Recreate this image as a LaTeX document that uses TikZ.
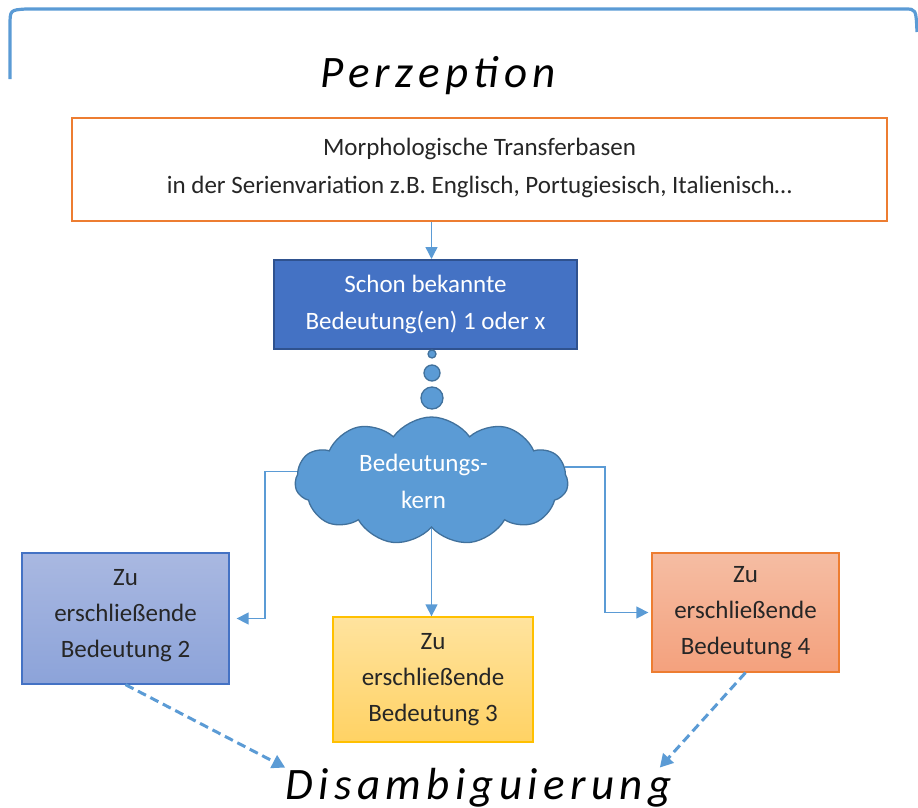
\documentclass[tikz,border=0pt]{standalone}
\usepackage{fontspec}
\setmainfont{Carlito}
\newfontfamily\titelfont[LetterSpace=12]{Carlito}
\usetikzlibrary{shapes.symbols,arrows.meta,calc}

\definecolor{hellblau}{HTML}{5B9BD5}
\definecolor{wolkenrand}{HTML}{41719C}
\definecolor{dunkelblau}{HTML}{4472C4}
\definecolor{blaurand}{HTML}{2F528F}
\definecolor{orangerand}{HTML}{ED7D31}
\definecolor{gelbrand}{HTML}{FFC000}
\definecolor{textgrau}{HTML}{262626}
\definecolor{blauoben}{HTML}{A9B8E1}
\definecolor{blauunten}{HTML}{8CA3D9}
\definecolor{gelboben}{HTML}{FFE39E}
\definecolor{gelbunten}{HTML}{FFD264}
\definecolor{orangeoben}{HTML}{F5BDA3}
\definecolor{orangeunten}{HTML}{F4A17D}

\tikzset{
	kasten/.style={rectangle, draw, align=center, inner sep=0pt, text=textgrau, font=\fontsize{25}{36}\selectfont},
	titel/.style={inner sep=0pt, anchor=base, font=\titelfont\itshape\fontsize{45}{50}\selectfont},
	verbinder/.style={draw=hellblau, line width=1.4pt, -{Triangle[length=12pt,width=12pt]}},
	strichpfeil/.style={draw=hellblau, line width=3pt, dash pattern=on 9pt off 5pt, -{Triangle[length=13pt,width=14pt]}},
	blase/.style={draw=wolkenrand, fill=hellblau, line width=1.3pt}
}

\begin{document}
\begin{tikzpicture}[x=1pt, y=-1pt]
		\useasboundingbox (0,0) rectangle (918,808);
		% Klammer oben
		\draw[draw=hellblau, line width=3.2pt] (10,79) -- (10,26) .. controls (10,10) .. (26,9) -- (905,9) .. controls (916,9) .. (917,32);
		\node[titel] (perz) at (438,87) {Perzeption};
		\node[kasten, draw=orangerand, line width=2.4pt, fill=white, minimum width=815pt, minimum height=103pt, text depth=8pt, font=\fontsize{25}{38}\selectfont] (transfer) at (479.5,169.5) {Morphologische Transferbasen\\in der Serienvariation z.B. Englisch, Portugiesisch, Italienisch…};
		\node[kasten, draw=blaurand, line width=2pt, fill=dunkelblau, text=white, minimum width=303pt, minimum height=89pt, font=\fontsize{25}{37}\selectfont] (bekannt) at (425.5,304.5) {Schon bekannte\\Bedeutung(en) 1 oder x};
		% Gedankenblasen
		\draw[blase] (432,354) circle (4);
		\draw[blase] (432,373) circle (8);
		\draw[blase] (432,398) circle (11);
		\node[cloud, cloud puffs=11, cloud puff arc=110, draw=wolkenrand, fill=hellblau, line width=1.3pt, inner sep=0pt, minimum width=273pt, minimum height=128pt,
			label={[xshift=-8pt, text=white, align=center, font=\fontsize{25}{37}\selectfont]center:{Bedeutungs-\\kern}}] (wolke) at (431.5,481) {};
		\node[kasten, draw=dunkelblau, line width=1.3pt, top color=blauoben, bottom color=blauunten, minimum width=207pt, minimum height=131pt, text depth=10pt] (b2) at (125.5,618.5) {Zu\\erschließende\\Bedeutung 2};
		\node[kasten, draw=gelbrand, line width=1.3pt, top color=gelboben, bottom color=gelbunten, minimum width=200pt, minimum height=125pt, text depth=5pt] (b3) at (433,679.5) {Zu\\erschließende\\Bedeutung 3};
		\node[kasten, draw=orangerand, line width=1.3pt, top color=orangeoben, bottom color=orangeunten, minimum width=187pt, minimum height=119pt] (b4) at (745.5,612.5) {Zu\\erschließende\\Bedeutung 4};
		\node[titel] (disamb) at (478.5,799) {Disambiguierung};
		\coordinate (knickL) at (265,0);
		\coordinate (knickR) at (605,0);
		\draw[verbinder] (transfer.south -| wolke.center) -- (bekannt.north -| wolke.center);
		\draw[verbinder, shorten >=7pt] (wolke.176) -| (knickL |- b2.east) -- (b2.east);
		\draw[verbinder, shorten >=3pt] (wolke.6) -| (knickR |- b4.west) -- (b4.west);
		\draw[verbinder] (wolke.south) -- (wolke.south |- b3.north);
		\draw[strichpfeil] (b2.south) -- (disamb.north west);
		\draw[strichpfeil] (b4.south) -- ([xshift=-12pt]disamb.north east);
	\end{tikzpicture}
\end{document}
